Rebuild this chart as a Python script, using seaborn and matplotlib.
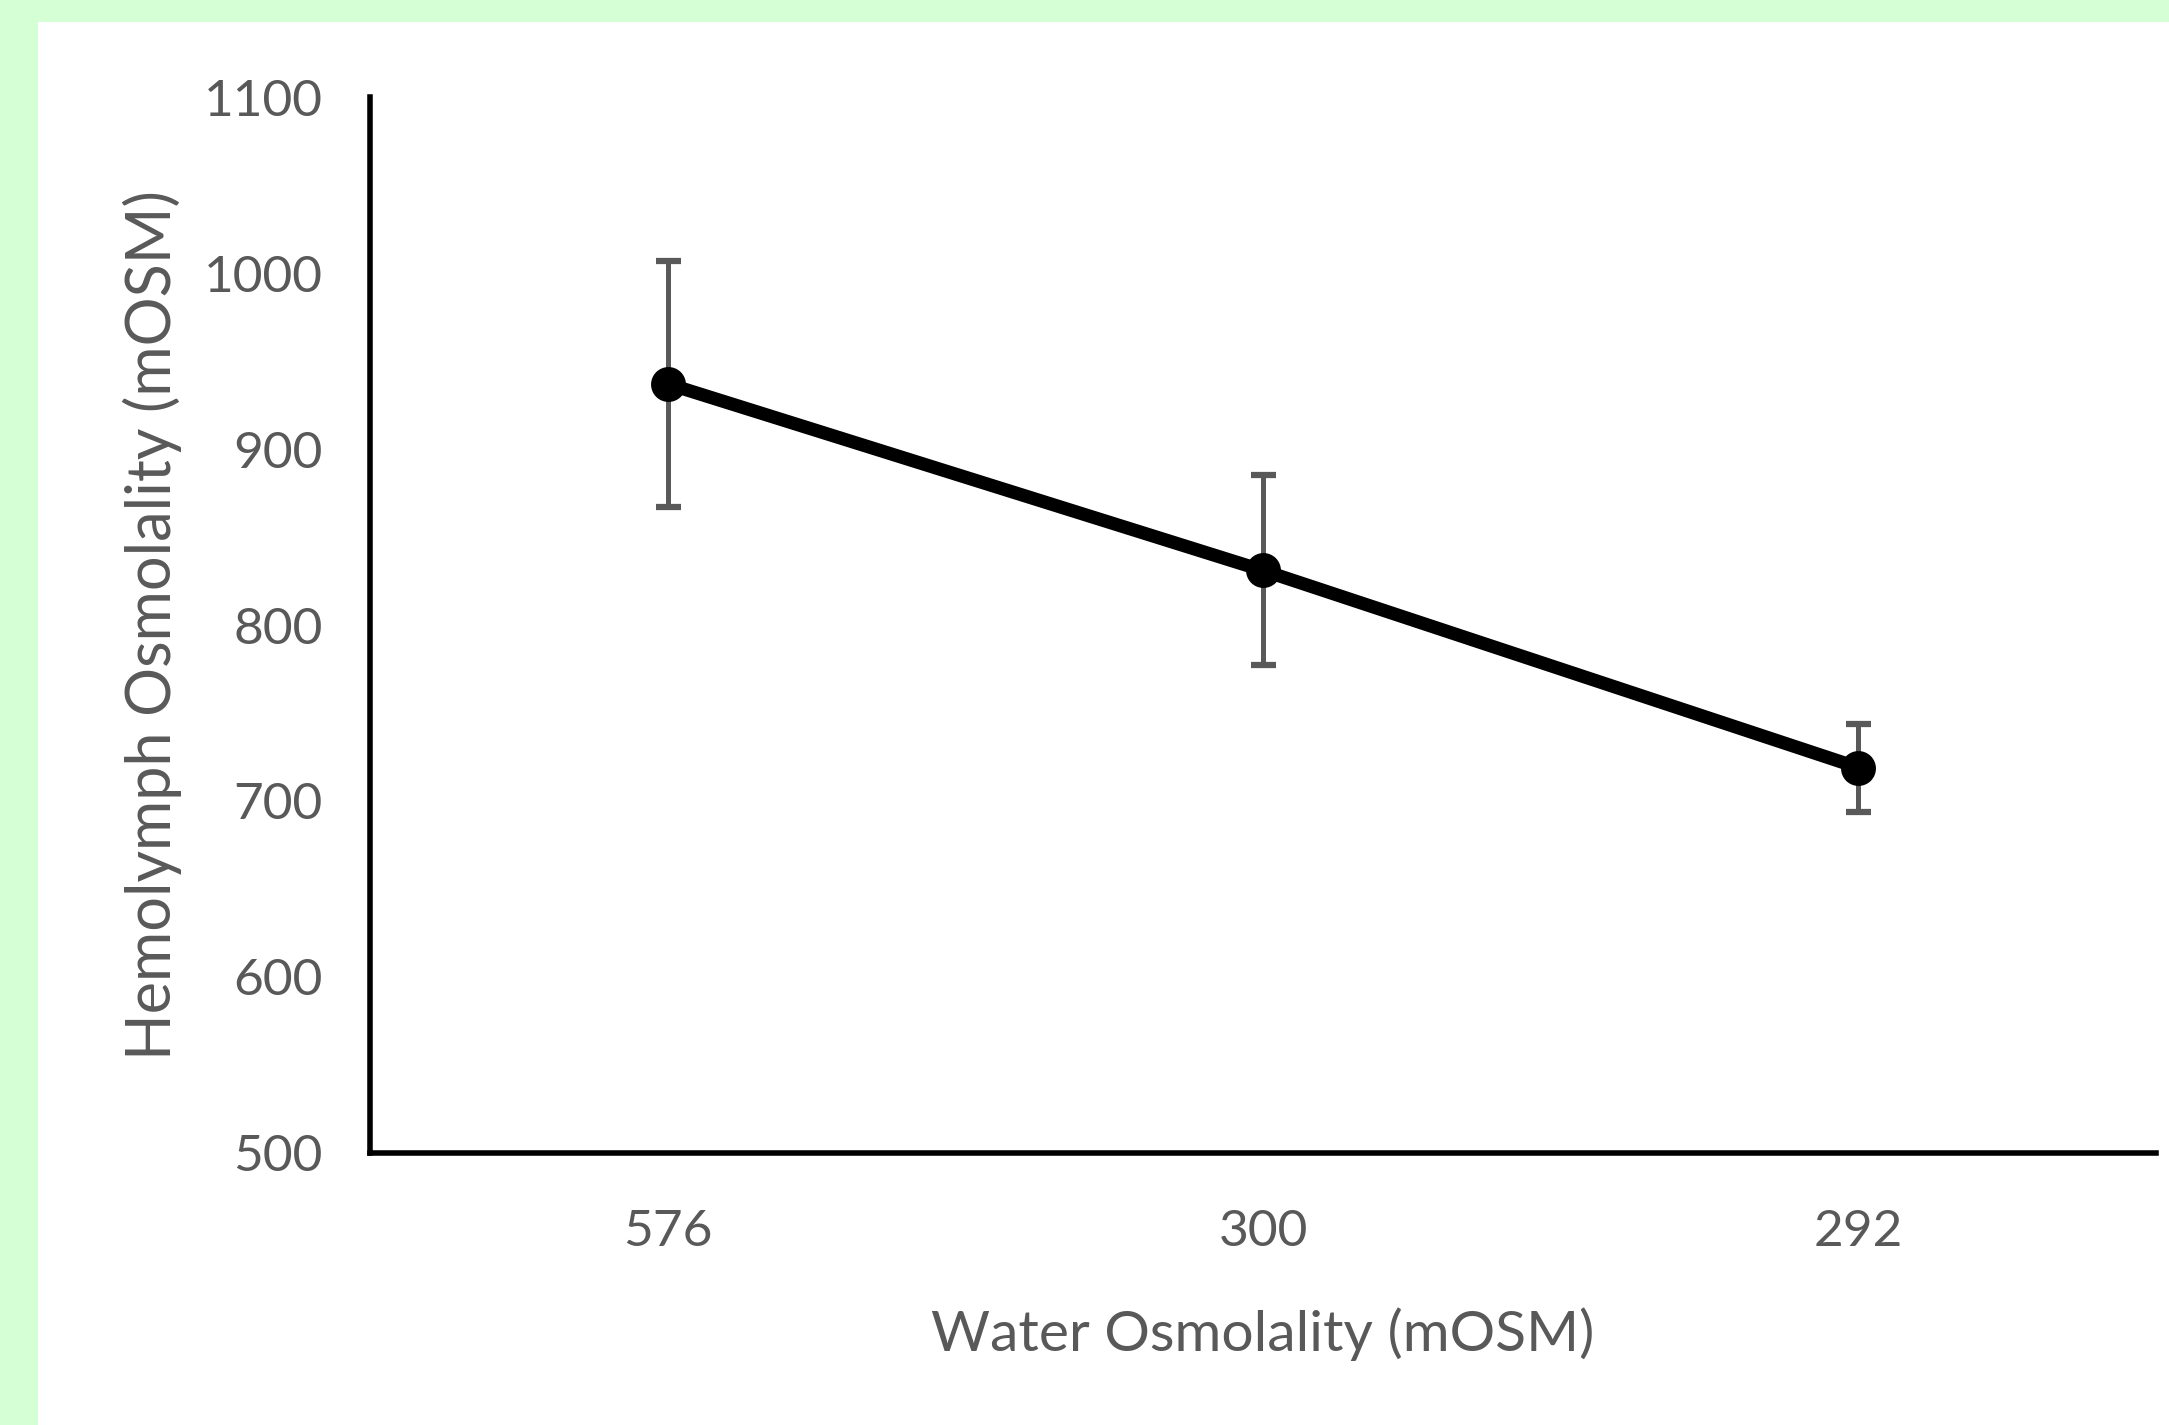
import numpy as np
import pandas as pd
import seaborn as sns
import matplotlib.pyplot as plt
from matplotlib.patches import Rectangle

# values
water_osm = ['576', '300', '292']
hemolymph_mean = [937, 831, 719]
hemolymph_err = [70, 54, 25]

sns.set_theme(style='white')
plt.rcParams['font.family'] = ['Lato', 'DejaVu Sans']

fig = plt.figure(figsize=(21.69, 14.25), dpi=100, facecolor='#d5ffd5')
# white chart panel over the green frame
fig.patches.append(Rectangle((38 / 2169, 0), 1, 1 - 22 / 1425,
                             transform=fig.transFigure, facecolor='white',
                             edgecolor='none', zorder=-10))

ax = fig.add_axes([0.1706, 0.1909, 0.8234, 0.741])
ax.set_facecolor('none')

df = pd.DataFrame({'water': water_osm, 'hemo': hemolymph_mean})
sns.pointplot(data=df, x='water', y='hemo', ax=ax, errorbar=None,
              color='black', markers='o', linewidth=9.5, markersize=18)
ax.errorbar(np.arange(len(water_osm)), hemolymph_mean, yerr=hemolymph_err,
            fmt='none', ecolor='#595959', elinewidth=3.6, capsize=9,
            capthick=4.5, zorder=1)

ax.set_xlim(-0.5, 2.5)
ax.set_ylim(500, 1100)
ax.set_yticks(range(500, 1101, 100))

for side in ['top', 'right']:
    ax.spines[side].set_visible(False)
for side in ['left', 'bottom']:
    ax.spines[side].set_color('black')
    ax.spines[side].set_linewidth(4)

ax.tick_params(axis='y', length=0, pad=34, labelsize=37, labelcolor='#595959')
ax.tick_params(axis='x', length=0, pad=40, labelsize=37, labelcolor='#595959')

ax.set_xlabel('Water Osmolality (mOSM)', fontsize=41, color='#595959', labelpad=38)
ax.set_ylabel('Hemolymph Osmolality (mOSM)', fontsize=44, color='#595959', labelpad=16)

fig.savefig('out.png', dpi=100, facecolor=fig.get_facecolor())
